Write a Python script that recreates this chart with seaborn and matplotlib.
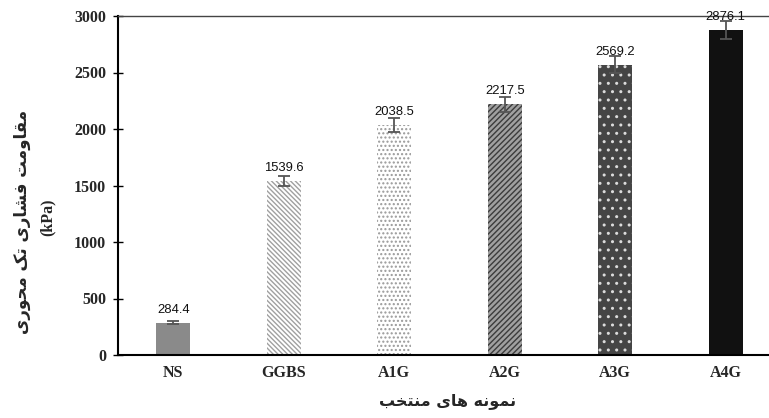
import matplotlib
matplotlib.use("Agg")
import matplotlib.pyplot as plt
import seaborn as sns
import pandas as pd
import numpy as np

# ---- data ----
categories = ["NS", "GGBS", "A1G", "A2G", "A3G", "A4G"]
values = [284.4, 1539.6, 2038.5, 2217.5, 2569.2, 2876.1]
errors = [13, 48, 62, 68, 74, 82]
value_labels = ["284.4", "1539.6", "2038.5", "2217.5", "2569.2", "2876.1"]
y_ticks = [0, 500, 1000, 1500, 2000, 2500, 3000]
ylabel_fa = "مقاومت فشاری تک محوری"
ylabel_unit = "(kPa)"
xlabel_fa = "نمونه های منتخب"

# ---- minimal Persian shaping (presentation forms, visual order) ----
FORMS = {
    "ا": ("\uFE8D", "\uFE8E", None, None),
    "ب": ("\uFE8F", "\uFE90", "\uFE91", "\uFE92"),
    "ت": ("\uFE95", "\uFE96", "\uFE97", "\uFE98"),
    "ح": ("\uFEA1", "\uFEA2", "\uFEA3", "\uFEA4"),
    "خ": ("\uFEA5", "\uFEA6", "\uFEA7", "\uFEA8"),
    "ر": ("\uFEAD", "\uFEAE", None, None),
    "ش": ("\uFEB5", "\uFEB6", "\uFEB7", "\uFEB8"),
    "ف": ("\uFED1", "\uFED2", "\uFED3", "\uFED4"),
    "ق": ("\uFED5", "\uFED6", "\uFED7", "\uFED8"),
    "م": ("\uFEE1", "\uFEE2", "\uFEE3", "\uFEE4"),
    "ن": ("\uFEE5", "\uFEE6", "\uFEE7", "\uFEE8"),
    "ه": ("\uFEE9", "\uFEEA", "\uFEEB", "\uFEEC"),
    "و": ("\uFEED", "\uFEEE", None, None),
    "ی": ("\uFBFC", "\uFBFD", "\uFBFE", "\uFBFF"),
    "ک": ("\uFB8E", "\uFB8F", "\uFB90", "\uFB91"),
}


def shape(text):
    out = []
    n = len(text)
    for i, ch in enumerate(text):
        if ch not in FORMS:
            out.append(ch)
            continue
        prev = text[i - 1] if i > 0 else ""
        nxt = text[i + 1] if i < n - 1 else ""
        jp = prev in FORMS and FORMS[prev][2] is not None
        jn = FORMS[ch][2] is not None and nxt in FORMS
        iso, fin, ini, med = FORMS[ch]
        if jp and jn:
            out.append(med)
        elif jp:
            out.append(fin)
        elif jn:
            out.append(ini)
        else:
            out.append(iso)
    return "".join(out)[::-1]


sns.set_theme(style="white")
plt.rcParams["font.family"] = ["Liberation Serif", "DejaVu Sans"]
plt.rcParams["hatch.linewidth"] = 1.0

df = pd.DataFrame({"sample": categories, "value": values})

fig = plt.figure(figsize=(7.69, 4.18), dpi=100)
W, H = 769, 418
ax = fig.add_axes([118 / W, 63 / H, 663 / W, 339 / H])

face = ["#8a8a8a", "#ffffff", "#ffffff", "#a0a0a0", "#454545", "#111111"]
hatch_col = ["#8a8a8a", "#a0a0a0", "#999999", "#3c3c3c", "#dcdcdc", "#111111"]
hatches = [None, "\\\\\\\\\\\\\\", "....", "//////", "..", None]

sns.barplot(data=df, x="sample", y="value", order=categories, ax=ax,
            width=0.31, errorbar=None, color="#888888", saturation=1)

for i, p in enumerate(ax.patches):
    p.set_facecolor(face[i])
    p.set_edgecolor(hatch_col[i])
    p.set_linewidth(0)
    if hatches[i]:
        p.set_hatch(hatches[i])

xpos = np.arange(len(categories))
ax.errorbar(xpos, values, yerr=errors, fmt="none", ecolor="#555555",
            elinewidth=1.3, capsize=4, capthick=1.3, zorder=5)

for x, v, lab in zip(xpos, values, value_labels):
    ax.annotate(lab, (x, v), xytext=(0, 5), textcoords="offset points",
                ha="center", va="bottom", fontsize=9.4,
                family="Liberation Sans", color="#111111", zorder=6)

ax.set_xlim(-0.5, 5.5)
ax.set_ylim(0, 3000)
ax.set_yticks(y_ticks)
ax.set_yticklabels([str(t) for t in y_ticks], fontsize=11.5, fontweight="bold")
ax.set_xticks(xpos)
ax.set_xticklabels(categories, fontsize=11.5, fontweight="bold")
ax.tick_params(axis="y", direction="inout", length=7, width=1, color="black",
               pad=5, left=True)
ax.tick_params(axis="x", length=0, pad=7)
ax.set_xlabel("")
ax.set_ylabel("")

for s in ["left", "bottom"]:
    ax.spines[s].set_color("black")
    ax.spines[s].set_linewidth(1.5)
ax.spines["top"].set_color("#444444")
ax.spines["top"].set_linewidth(1.0)
ax.spines["right"].set_visible(False)

fig.text(448 / W, 1 - 401 / H, shape(xlabel_fa), ha="center", va="center",
         fontsize=11.5, fontweight="bold", family=["DejaVu Sans"])
fig.text(22 / W, 1 - 222 / H, shape(ylabel_fa), ha="center", va="center",
         rotation=90, fontsize=12, fontweight="bold", family=["DejaVu Sans"])
fig.text(48 / W, 1 - 217 / H, ylabel_unit, ha="center", va="center",
         rotation=90, fontsize=11.5, fontweight="bold", family=["Liberation Serif"])

fig.savefig("out.png", dpi=100)
